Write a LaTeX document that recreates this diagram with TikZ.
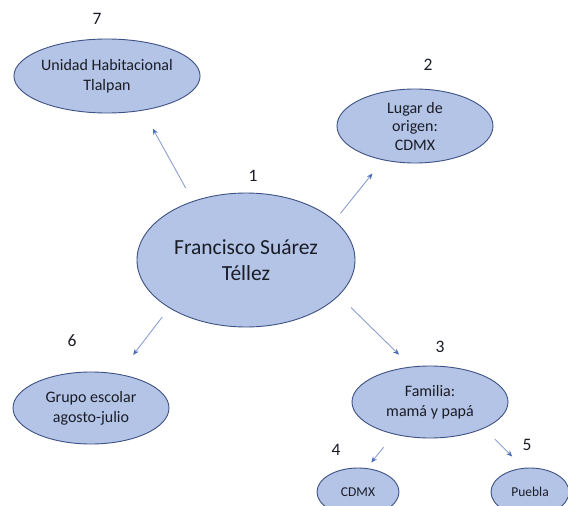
\documentclass[tikz,border=0pt]{standalone}
\usepackage{fontspec}
\setmainfont{Carlito}
\usetikzlibrary{shapes.geometric,arrows.meta}
\definecolor{efill}{HTML}{B4C4E6}
\definecolor{edraw}{HTML}{3E5185}
\definecolor{arrline}{HTML}{8C9FCF}
\definecolor{arrtip}{HTML}{4A6CC0}
\definecolor{txt}{HTML}{1A1C26}
\tikzset{
  bubble/.style={ellipse, draw=edraw, fill=efill, line width=0.9pt, inner sep=0pt, align=center, text=txt},
  numlabel/.style={font=\fontsize{17.5}{17.5}\selectfont, text=txt, inner sep=0pt},
  arr/.style={draw=arrline, line width=0.9pt, -{Stealth[length=6pt,width=5pt,color=arrtip]}}
}
\begin{document}
\begin{tikzpicture}[x=1pt,y=-1pt]
\useasboundingbox (0,0) rectangle (568,506);
\clip (0,0) rectangle (568,506);
\fill[white] (0,0) rectangle (568,506);
% nodes
\node[bubble, minimum width=218pt, minimum height=134pt, font=\fontsize{21.5}{26}\selectfont] (n1) at (246,260) {Francisco Suárez\\Téllez};
\node[bubble, minimum width=156pt, minimum height=74pt, font=\fontsize{16}{20}\selectfont] (n7) at (107,76) {Unidad Habitacional\\Tlalpan};
\node[bubble, minimum width=156pt, minimum height=74pt, font=\fontsize{16}{18.5}\selectfont] (n2) at (415,126) {Lugar de\\origen:\\CDMX};
\node[bubble, minimum width=156pt, minimum height=72pt, font=\fontsize{16}{20}\selectfont] (n6) at (91,408) {Grupo escolar\\agosto-julio};
\node[bubble, minimum width=156pt, minimum height=72pt, font=\fontsize{16}{20}\selectfont] (n3) at (430,402) {Familia:\\mamá y papá};
\node[bubble, minimum width=82pt, minimum height=48pt, font=\fontsize{13.5}{14}\selectfont] (n4) at (358,492) {CDMX};
\node[bubble, minimum width=78pt, minimum height=48pt, font=\fontsize{13.5}{14}\selectfont] (n5) at (530,492) {Puebla};
% numbers
\node[numlabel] (l7) at (97,18.5) {7};
\node[numlabel] (l2) at (428,65) {2};
\node[numlabel] (l1) at (253,176) {1};
\node[numlabel] (l6) at (72,341) {6};
\node[numlabel] (l3) at (440,347) {3};
\node[numlabel] (l4) at (336,450) {4};
\node[numlabel] (l5) at (527,445) {5};
% connectors
\draw[arr, shorten <=14.8pt, shorten >=20.6pt] (n1.132) -- (n7.316);
\draw[arr, shorten <=9.2pt, shorten >=17pt] (n1.24.7) -- (n2.227.6);
\draw[arr, shorten <=11.4pt, shorten >=23.9pt] (n1.212) -- (n6.51);
\draw[arr, shorten <=17pt, shorten >=17pt] (n1.339.4) -- (n3.118.5);
\draw[arr, shorten <=16.5pt, shorten >=7.2pt] (n3.222) -- (n4.70);
\draw[arr, shorten <=15.3pt, shorten >=16pt] (n3.334) -- (n5.105.8);
\end{tikzpicture}
\end{document}
